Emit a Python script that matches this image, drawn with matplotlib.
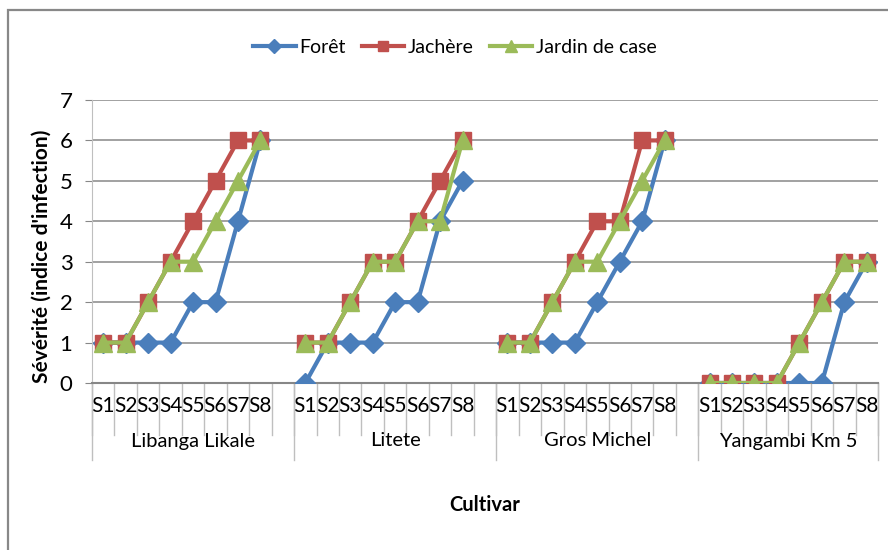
import numpy as np
import matplotlib.pyplot as plt
from matplotlib.lines import Line2D
from matplotlib.patches import Rectangle

plt.rcParams['font.family'] = ['Lato', 'DejaVu Sans']

cultivars = ['Libanga Likale', 'Litete', 'Gros Michel', 'Yangambi Km 5']
stades = ['S1', 'S2', 'S3', 'S4', 'S5', 'S6', 'S7', 'S8']

# severite par cultivar (S1..S8)
foret = [[1, 1, 1, 1, 2, 2, 4, 6],
         [0, 1, 1, 1, 2, 2, 4, 5],
         [1, 1, 1, 1, 2, 3, 4, 6],
         [0, 0, 0, 0, 0, 0, 2, 3]]
jachere = [[1, 1, 2, 3, 4, 5, 6, 6],
           [1, 1, 2, 3, 3, 4, 5, 6],
           [1, 1, 2, 3, 4, 4, 6, 6],
           [0, 0, 0, 0, 1, 2, 3, 3]]
jardin = [[1, 1, 2, 3, 3, 4, 5, 6],
          [1, 1, 2, 3, 3, 4, 4, 6],
          [1, 1, 2, 3, 3, 4, 5, 6],
          [0, 0, 0, 0, 1, 2, 3, 3]]

n = len(stades)
step = n + 1  # une case vide entre les cultivars

def flat(groups):
    # valeurs mises bout a bout, NaN dans la case vide -> pas de trait entre cultivars
    out = []
    for k, g in enumerate(groups):
        out += list(g)
        if k < len(groups) - 1:
            out.append(np.nan)
    return np.array(out, dtype=float)

x = np.arange(len(cultivars) * step - 1)

fig = plt.figure(figsize=(8.88, 5.5), dpi=100)
ax = fig.add_axes([92/888, 1-383/550, (878-92)/888, (383-100)/550])

series = [
    ('Forêt', foret, '#4A7EBB', 'D', 10.5),
    ('Jachère', jachere, '#C0504D', 's', 12),
    ('Jardin de case', jardin, '#9BBB59', '^', 13),
]
handles = []
for name, vals, col, mk, ms in series:
    ax.plot(x, flat(vals), color=col, lw=3, marker=mk, ms=ms, mec=col, mfc=col, zorder=3)
    handles.append(Line2D([], [], color=col, lw=3, marker=mk, ms=ms*0.65, mec=col, mfc=col))

ax.set_xlim(-0.5, len(x) - 0.5)
ax.set_ylim(0, 7)
ax.set_yticks(range(8))
ax.tick_params(axis='y', labelsize=16, length=5, color='#878787', pad=9)
ax.yaxis.grid(True, color='#878787', lw=1.1)
ax.set_axisbelow(True)
for s in ['top', 'right']:
    ax.spines[s].set_visible(False)
ax.spines['left'].set_color('#BFBFBF')
ax.spines['bottom'].set_color('#878787')
ax.spines['bottom'].set_linewidth(1.5)

# axe des categories a deux niveaux
pos = [g * step + i for g in range(len(cultivars)) for i in range(n)]
ax.set_xticks(pos)
ax.set_xticklabels(stades * len(cultivars), fontsize=15)
ax.tick_params(axis='x', length=0, pad=9)
tr = ax.get_xaxis_transform()
for b in np.arange(len(x) + 1) - 0.5:
    ax.plot([b, b], [0, -52/283], color='#BFBFBF', lw=1, transform=tr, clip_on=False)
for g in range(len(cultivars) + 1):
    b = min(g * step, len(x)) - 0.5
    ax.plot([b, b], [0, -77/283], color='#BFBFBF', lw=1, transform=tr, clip_on=False)
for g, name in enumerate(cultivars):
    lo = g * step - 0.5
    hi = min((g + 1) * step, len(x)) - 0.5
    ax.text((lo + hi) / 2, -58/283, name, transform=tr, ha='center', va='center', fontsize=14.5)

fig.text(485/888, 1-505/550, 'Cultivar', ha='center', va='center', fontsize=14.5, fontweight='bold')
fig.text(42/888, 1-256/550, "Sévérité (indice d'infection)", rotation=90, ha='center', va='center',
         fontsize=15, fontweight='bold')

fig.legend(handles, [s[0] for s in series], loc='center', bbox_to_anchor=(455/888, 1-47/550),
           ncol=3, frameon=False, fontsize=14, handlelength=2.2, columnspacing=0.8, handletextpad=0.2)

fig.add_artist(Rectangle((8/888, -0.05), 1, 1.05 - 10/550, transform=fig.transFigure,
                         fill=False, ec='#888888', lw=1.6))

fig.savefig('out.png', dpi=100)
